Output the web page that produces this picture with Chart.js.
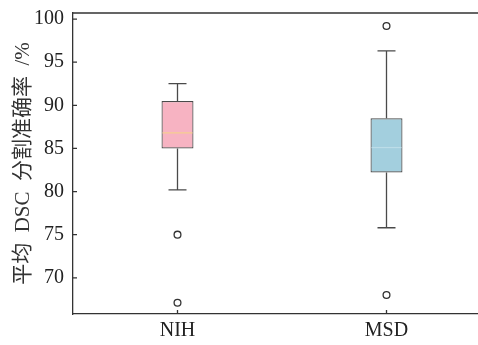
<!DOCTYPE html>
<html>
<head>
<meta charset="utf-8">
<script src="https://cdn.jsdelivr.net/npm/chart.js@4"></script>
<style>
    html, body { margin: 0; padding: 0; background: #fff; overflow: hidden; }
    #wrap { width: 500px; height: 345px; }
</style>
</head>
<body>
<div id="wrap"><canvas id="box-chart"></canvas></div>
<script>
const categories = ['NIH', 'MSD'];
const whiskerLow = [80.2, 75.8];
const q1 = [85.0, 82.2];
const median = [86.8, 85.1];
const q3 = [90.5, 88.5];
const whiskerHigh = [92.5, 96.3];
const outliers = [[75.0, 67.1], [99.2, 68.0]];
const yTicks = [70, 75, 80, 85, 90, 95, 100];

const boxColors = ['#f7b3c2', '#a3cfde'];
const medianColors = ['#f5d08e', '#bcdde8'];
const lineColor = '#4a4a4a';
const serif = "'Liberation Serif', 'Noto Sans CJK SC', serif";
const gap = '  ';

// whiskers, caps, medians and inward tick marks
const boxExtras = {
    id: 'boxExtras',
    beforeDatasetsDraw(chart) {
        const ctx = chart.ctx;
        const x = chart.scales.x;
        const y = chart.scales.y;
        ctx.save();
        ctx.strokeStyle = lineColor;
        ctx.lineWidth = 1.3;
        categories.forEach((c, i) => {
            const cx = x.getPixelForValue(i);
            const capHalf = 9;
            ctx.beginPath();
            ctx.moveTo(cx, y.getPixelForValue(q3[i]));
            ctx.lineTo(cx, y.getPixelForValue(whiskerHigh[i]));
            ctx.moveTo(cx, y.getPixelForValue(q1[i]));
            ctx.lineTo(cx, y.getPixelForValue(whiskerLow[i]));
            ctx.moveTo(cx - capHalf, y.getPixelForValue(whiskerHigh[i]));
            ctx.lineTo(cx + capHalf, y.getPixelForValue(whiskerHigh[i]));
            ctx.moveTo(cx - capHalf, y.getPixelForValue(whiskerLow[i]));
            ctx.lineTo(cx + capHalf, y.getPixelForValue(whiskerLow[i]));
            ctx.stroke();
        });
        ctx.restore();
    },
    afterDatasetsDraw(chart) {
        const ctx = chart.ctx;
        const area = chart.chartArea;
        const x = chart.scales.x;
        const y = chart.scales.y;
        const bar = chart.getDatasetMeta(0);
        ctx.save();
        ctx.lineWidth = 1.2;
        bar.data.forEach((el, i) => {
            const half = el.width / 2;
            const my = y.getPixelForValue(median[i]);
            ctx.strokeStyle = medianColors[i];
            ctx.beginPath();
            ctx.moveTo(el.x - half + 1, my);
            ctx.lineTo(el.x + half - 1, my);
            ctx.stroke();
        });

        ctx.strokeStyle = '#333';
        ctx.lineWidth = 1.3;
        ctx.beginPath();
        ctx.moveTo(area.left, area.top);
        ctx.lineTo(area.right, area.top);
        yTicks.forEach(v => {
            const py = y.getPixelForValue(v);
            ctx.moveTo(area.left, py);
            ctx.lineTo(area.left + 4, py);
        });
        categories.forEach((c, i) => {
            const px = x.getPixelForValue(i);
            ctx.moveTo(px, area.bottom);
            ctx.lineTo(px, area.bottom - 4);
        });
        ctx.stroke();
        ctx.restore();
    }
};

const ctx = document.getElementById('box-chart').getContext('2d');
new Chart(ctx, {
    type: 'bar',
    data: {
        labels: categories,
        datasets: [
            {
                label: 'box',
                data: categories.map((c, i) => [q1[i], q3[i]]),
                backgroundColor: boxColors,
                borderColor: lineColor,
                borderWidth: 1.2,
                borderSkipped: false,
                barPercentage: 0.153,
                categoryPercentage: 1
            },
            {
                type: 'line',
                label: 'outliers',
                data: categories.flatMap((c, i) => outliers[i].map(v => ({ x: c, y: v }))),
                showLine: false,
                pointRadius: 3.4,
                pointBackgroundColor: '#fff',
                pointBorderColor: '#333',
                pointBorderWidth: 1.3
            }
        ]
    },
    options: {
        responsive: true,
        maintainAspectRatio: false,
        animation: false,
        plugins: {
            legend: { display: false },
            title: { display: false },
            tooltip: { enabled: false }
        },
        layout: { padding: { left: 0, right: 9, top: 13, bottom: 0 } },
        scales: {
            x: {
                grid: { display: false, drawTicks: false },
                border: { display: true, color: '#333', width: 1.3 },
                ticks: { color: '#222', padding: 5, font: { family: serif, size: 20 } },
                afterFit: (scale) => {
                    scale.height = 31;
                    scale.paddingLeft = 0;
                    scale.paddingRight = 0;
                }
            },
            y: {
                min: 65.8,
                max: 100.7,
                grid: { display: false, drawTicks: false },
                border: { display: true, color: '#333', width: 1.3 },
                ticks: { color: '#222', padding: 9, font: { family: serif, size: 20 } },
                afterBuildTicks: (scale) => { scale.ticks = yTicks.map(v => ({ value: v })); },
                afterFit: (scale) => {
                    scale.width = 73;
                    scale.paddingTop = 0;
                    scale.paddingBottom = 0;
                },
                title: {
                    display: true,
                    text: '平均' + gap + 'DSC' + gap + '分割准确率' + gap + '/%',
                    color: '#333',
                    padding: { top: 11, bottom: 0 },
                    font: { family: serif, size: 21 }
                }
            }
        }
    },
    plugins: [boxExtras]
});
</script>
</body>
</html>
